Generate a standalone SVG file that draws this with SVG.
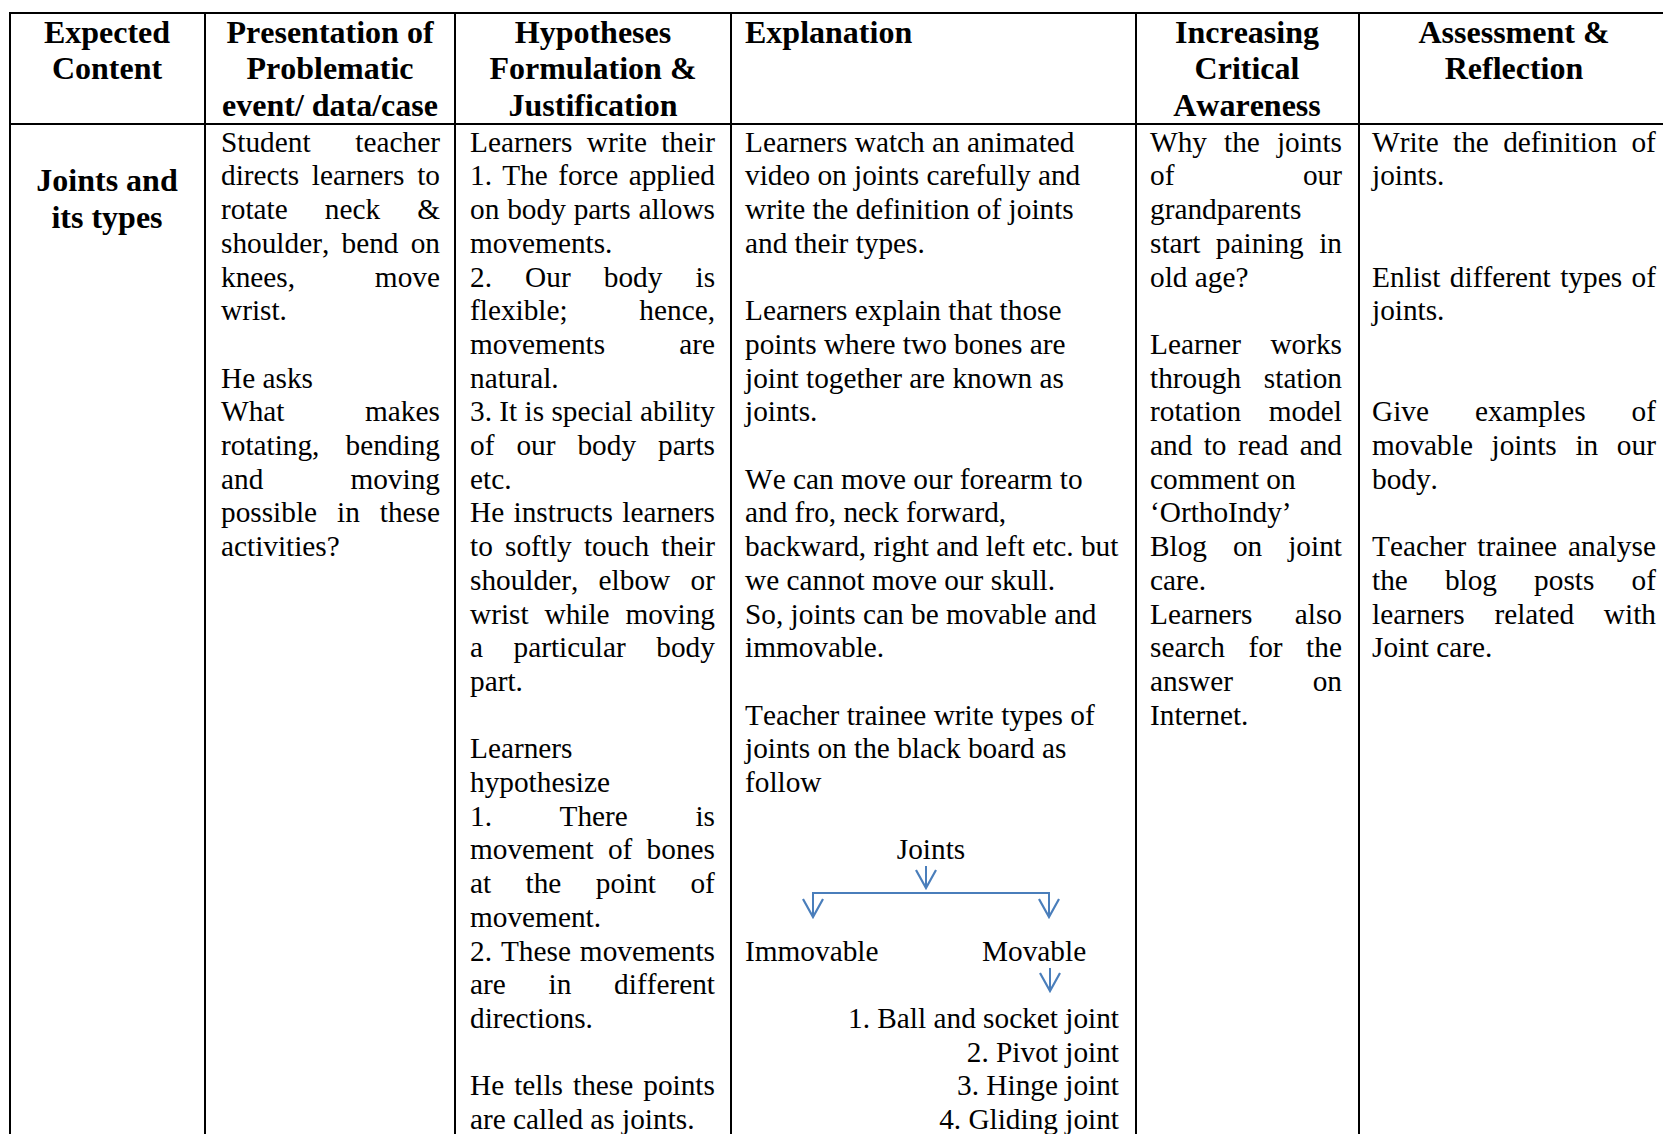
<svg xmlns="http://www.w3.org/2000/svg" width="1663" height="1134" viewBox="0 0 1663 1134">
  <style>
    text { font-family: "Liberation Serif", "Times New Roman", serif; fill: #000; font-kerning: none; }
    .h { font-size: 32px; font-weight: bold; }
    .hc { font-size: 32px; font-weight: bold; text-anchor: middle; }
    .b { font-size: 29.3px; }
    .r { text-anchor: end; }
    .c { text-anchor: middle; }
    .grid { stroke: #000; stroke-width: 2; fill: none; }
    .conn { stroke: #4a7ebb; stroke-width: 2; fill: none; }
  </style>
  <defs>
    <marker id="vee" viewBox="-20 -12 22 24" refX="0" refY="0" markerWidth="22" markerHeight="24" markerUnits="userSpaceOnUse" orient="auto">
      <path d="M-18,-10 L0,0 L-18,10" fill="none" stroke="#4a7ebb" stroke-width="2.2"/>
    </marker>
  </defs>

  <rect width="1663" height="1134" fill="#fff"/>

  <!-- table rules -->
  <g id="table-grid" class="grid">
    <line x1="9" y1="13" x2="1663" y2="13"/>
    <line x1="9" y1="124" x2="1663" y2="124"/>
    <line x1="10" y1="12" x2="10" y2="1134"/>
    <line x1="205" y1="12" x2="205" y2="1134"/>
    <line x1="455" y1="12" x2="455" y2="1134"/>
    <line x1="731" y1="12" x2="731" y2="1134"/>
    <line x1="1136" y1="12" x2="1136" y2="1134"/>
    <line x1="1359" y1="12" x2="1359" y2="1134"/>
  </g>

  <!-- header row -->
  <g id="header">
    <text class="hc" x="107" y="42.5">Expected</text>
    <text class="hc" x="107" y="79.3">Content</text>
    <text class="hc" x="330" y="42.5">Presentation of</text>
    <text class="hc" x="330" y="79.3">Problematic</text>
    <text class="hc" x="330" y="116.1">event/ data/case</text>
    <text class="hc" x="593" y="42.5">Hypotheses</text>
    <text class="hc" x="593" y="79.3">Formulation &amp;</text>
    <text class="hc" x="593" y="116.1">Justification</text>
    <text class="h" x="745" y="42.5">Explanation</text>
    <text class="hc" x="1247" y="42.5">Increasing</text>
    <text class="hc" x="1247" y="79.3">Critical</text>
    <text class="hc" x="1247" y="116.1">Awareness</text>
    <text class="hc" x="1514" y="42.5">Assessment &amp;</text>
    <text class="hc" x="1514" y="79.3">Reflection</text>
  </g>

  <!-- column 1: expected content -->
  <g id="cell-content">
    <text class="hc" x="107" y="191">Joints and</text>
    <text class="hc" x="107" y="228">its types</text>
  </g>

  <!-- column 2: problematic event -->
  <g id="cell-presentation" class="b">
    <text class="b" x="221" y="151.7" word-spacing="37.5">Student teacher</text>
    <text class="b" x="221" y="185.4" word-spacing="5.35">directs learners to</text>
    <text class="b" x="221" y="219.1" word-spacing="29.75">rotate neck &amp;</text>
    <text class="b" x="221" y="252.8" word-spacing="4.95">shoulder, bend on</text>
    <text class="b" x="221" y="286.5" word-spacing="72.5">knees, move</text>
    <text class="b" x="221" y="320.2">wrist.</text>
    <text class="b" x="221" y="387.6">He asks</text>
    <text class="b" x="221" y="421.3" word-spacing="73.3">What makes</text>
    <text class="b" x="221" y="455.0" word-spacing="18.8">rotating, bending</text>
    <text class="b" x="221" y="488.7" word-spacing="79.8">and moving</text>
    <text class="b" x="221" y="522.4" word-spacing="12.65">possible in these</text>
    <text class="b" x="221" y="556.1">activities?</text>
  </g>

  <!-- column 3: hypotheses -->
  <g id="cell-hypotheses">
    <text class="b" x="470" y="151.7" word-spacing="6.95">Learners write their</text>
    <text class="b" x="470" y="185.4" word-spacing="3.0">1. The force applied</text>
    <text class="b" x="470" y="219.1" word-spacing="0.56">on body parts allows</text>
    <text class="b" x="470" y="252.8">movements.</text>
    <text class="b" x="470" y="286.5" word-spacing="25.8">2. Our body is</text>
    <text class="b" x="470" y="320.2" word-spacing="64.4">flexible; hence,</text>
    <text class="b" x="470" y="353.9" word-spacing="66.8">movements are</text>
    <text class="b" x="470" y="387.6">natural.</text>
    <text class="b" x="470" y="421.3">3. It is special ability</text>
    <text class="b" x="470" y="455.0" word-spacing="14.67">of our body parts</text>
    <text class="b" x="470" y="488.7">etc.</text>
    <text class="b" x="470" y="522.4" word-spacing="2.1">He instructs learners</text>
    <text class="b" x="470" y="556.1" word-spacing="4.9">to softly touch their</text>
    <text class="b" x="470" y="589.8" word-spacing="13.05">shoulder, elbow or</text>
    <text class="b" x="470" y="623.5" word-spacing="8.55">wrist while moving</text>
    <text class="b" x="470" y="657.2" word-spacing="23.2">a particular body</text>
    <text class="b" x="470" y="690.9">part.</text>
    <text class="b" x="470" y="758.3">Learners</text>
    <text class="b" x="470" y="792.0">hypothesize</text>
    <text class="b" x="470" y="825.7" word-spacing="60.25">1. There is</text>
    <text class="b" x="470" y="859.4" word-spacing="6.95">movement of bones</text>
    <text class="b" x="470" y="893.1" word-spacing="27.1">at the point of</text>
    <text class="b" x="470" y="926.8">movement.</text>
    <text class="b" x="470" y="960.5" word-spacing="1.65">2. These movements</text>
    <text class="b" x="470" y="994.2" word-spacing="35.45">are in different</text>
    <text class="b" x="470" y="1027.9">directions.</text>
    <text class="b" x="470" y="1095.3" word-spacing="2.7">He tells these points</text>
    <text class="b" x="470" y="1129.0">are called as joints.</text>
  </g>

  <!-- column 4: explanation -->
  <g id="cell-explanation">
    <text class="b" x="745" y="151.7">Learners watch an animated</text>
    <text class="b" x="745" y="185.4">video on joints carefully and</text>
    <text class="b" x="745" y="219.1">write the definition of joints</text>
    <text class="b" x="745" y="252.8">and their types.</text>
    <text class="b" x="745" y="320.2">Learners explain that those</text>
    <text class="b" x="745" y="353.9">points where two bones are</text>
    <text class="b" x="745" y="387.6">joint together are known as</text>
    <text class="b" x="745" y="421.3">joints.</text>
    <text class="b" x="745" y="488.7">We can move our forearm to</text>
    <text class="b" x="745" y="522.4">and fro, neck forward,</text>
    <text class="b" x="745" y="556.1">backward, right and left etc. but</text>
    <text class="b" x="745" y="589.8">we cannot move our skull.</text>
    <text class="b" x="745" y="623.5">So, joints can be movable and</text>
    <text class="b" x="745" y="657.2">immovable.</text>
    <text class="b" x="745" y="724.6">Teacher trainee write types of</text>
    <text class="b" x="745" y="758.3">joints on the black board as</text>
    <text class="b" x="745" y="792.0">follow</text>
  </g>

  <!-- joint classification tree -->
  <g id="node-joints">
    <text class="b c" x="931" y="859.4">Joints</text>
  </g>
  <g id="node-immovable">
    <text class="b" x="745" y="960.5">Immovable</text>
  </g>
  <g id="node-movable">
    <text class="b" x="982" y="960.5">Movable</text>
  </g>
  <g id="node-movable-list">
    <text class="b r" x="1119" y="1027.9">1. Ball and socket joint</text>
    <text class="b r" x="1119" y="1061.6">2. Pivot joint</text>
    <text class="b r" x="1119" y="1095.3">3. Hinge joint</text>
    <text class="b r" x="1119" y="1129.0">4. Gliding joint</text>
  </g>
  <g id="connectors" class="conn">
    <path d="M926,866 V888" marker-end="url(#vee)"/>
    <path d="M926,893 H813 V917" marker-end="url(#vee)"/>
    <path d="M926,893 H1049 V917" marker-end="url(#vee)"/>
    <path d="M1050,968 V991" marker-end="url(#vee)"/>
  </g>

  <!-- column 5: critical awareness -->
  <g id="cell-awareness">
    <text class="b" x="1150" y="151.7" word-spacing="9.75">Why the joints</text>
    <text class="b" x="1150" y="185.4" word-spacing="121.2">of our</text>
    <text class="b" x="1150" y="219.1">grandparents</text>
    <text class="b" x="1150" y="252.8" word-spacing="8.1">start paining in</text>
    <text class="b" x="1150" y="286.5">old age?</text>
    <text class="b" x="1150" y="353.9" word-spacing="22">Learner works</text>
    <text class="b" x="1150" y="387.6" word-spacing="15.4">through station</text>
    <text class="b" x="1150" y="421.3" word-spacing="20.3">rotation model</text>
    <text class="b" x="1150" y="455.0" word-spacing="4.07">and to read and</text>
    <text class="b" x="1150" y="488.7">comment on</text>
    <text class="b" x="1150" y="522.4">‘OrthoIndy’</text>
    <text class="b" x="1150" y="556.1" word-spacing="18.65">Blog on joint</text>
    <text class="b" x="1150" y="589.8">care.</text>
    <text class="b" x="1150" y="623.5" word-spacing="35">Learners also</text>
    <text class="b" x="1150" y="657.2" word-spacing="16.25">search for the</text>
    <text class="b" x="1150" y="690.9" word-spacing="72.4">answer on</text>
    <text class="b" x="1150" y="724.6">Internet.</text>
  </g>

  <!-- column 6: assessment -->
  <g id="cell-assessment">
    <text class="b" x="1372" y="151.7" word-spacing="7.03">Write the definition of</text>
    <text class="b" x="1372" y="185.4">joints.</text>
    <text class="b" x="1372" y="286.5" word-spacing="2.17">Enlist different types of</text>
    <text class="b" x="1372" y="320.2">joints.</text>
    <text class="b" x="1372" y="421.3" word-spacing="38.65">Give examples of</text>
    <text class="b" x="1372" y="455.0" word-spacing="11.37">movable joints in our</text>
    <text class="b" x="1372" y="488.7">body.</text>
    <text class="b" x="1372" y="556.1" word-spacing="3.7">Teacher trainee analyse</text>
    <text class="b" x="1372" y="589.8" word-spacing="29.8">the blog posts of</text>
    <text class="b" x="1372" y="623.5" word-spacing="22.4">learners related with</text>
    <text class="b" x="1372" y="657.2">Joint care.</text>
  </g>
</svg>
